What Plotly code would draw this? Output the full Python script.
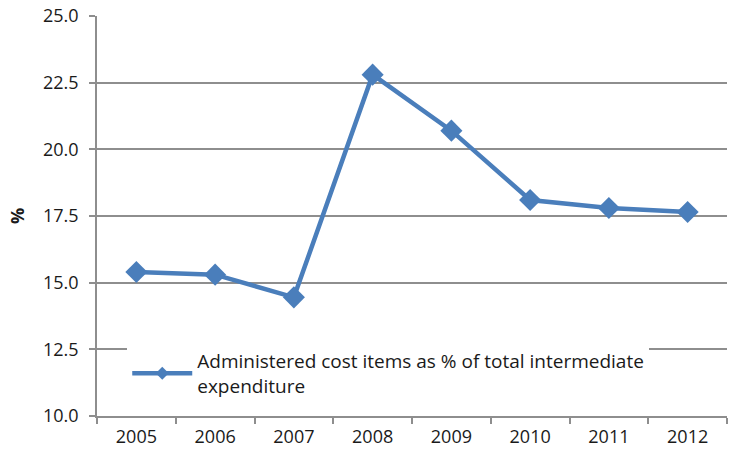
import plotly.graph_objects as go

years = ["2005", "2006", "2007", "2008", "2009", "2010", "2011", "2012"]
values = [15.4, 15.3, 14.45, 22.8, 20.7, 18.1, 17.8, 17.65]
series_name = "Administered cost items as % of total intermediate<br>expenditure"
y_ticks = [10.0, 12.5, 15.0, 17.5, 20.0, 22.5, 25.0]

blue = "#4A7EBB"
grid = "#8E8E8E"
text_col = "#1a1a1a"
font_family = "Open Sans, sans-serif"

fig = go.Figure()
fig.add_trace(go.Scatter(
    x=years, y=values, mode="lines+markers", name=series_name,
    line=dict(color=blue, width=4.5),
    marker=dict(symbol="diamond", size=17, color=blue),
    showlegend=False,
))
# legend entry (smaller diamond, as in the reference legend)
fig.add_trace(go.Scatter(
    x=[None], y=[None], mode="lines+markers", name=series_name,
    line=dict(color=blue, width=4.5),
    marker=dict(symbol="diamond", size=10, color=blue),
    showlegend=True,
))

fig.update_layout(
    width=730, height=454,
    margin=dict(l=97, r=3, t=16, b=38),
    plot_bgcolor="white", paper_bgcolor="white",
    font=dict(family=font_family, size=18, color=text_col),
    showlegend=True,
    legend=dict(
        x=0.048, y=0.185, xanchor="left", yanchor="top",
        bgcolor="white", borderwidth=0,
        font=dict(size=19, color=text_col),
        itemwidth=60, tracegroupgap=0,
    ),
)
fig.update_xaxes(
    type="category", tickson="boundaries", ticks="outside", ticklen=6,
    tickcolor=grid, tickwidth=1.5,
    showline=True, linecolor=grid, linewidth=1.5,
    showgrid=False, ticklabelstandoff=4,
    range=[-0.5, 7.5],
    tickfont=dict(size=18),
)
fig.update_yaxes(
    range=[10, 25], tickvals=y_ticks, tickformat=".1f",
    ticks="outside", ticklen=6, tickcolor=grid, tickwidth=1.5,
    showline=True, linecolor=grid, linewidth=1.5,
    showgrid=True, gridcolor=grid, gridwidth=1.5,
    ticklabelstandoff=7,
    tickfont=dict(size=18),
    title=dict(text="<b>%</b>", standoff=14, font=dict(size=18)),
    zeroline=False,
)

fig.write_html("out.html")
